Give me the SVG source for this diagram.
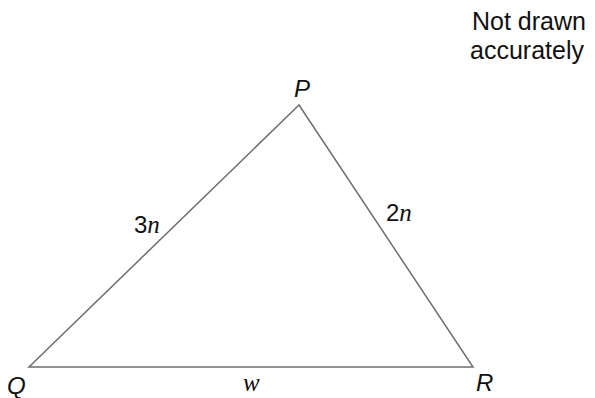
<svg xmlns="http://www.w3.org/2000/svg" width="595" height="398" viewBox="0 0 595 398">
<style>
.edge{stroke:#6e6e6e;stroke-width:1.5;fill:none}
.lbl{font-family:"Liberation Sans",Arial,sans-serif;font-size:24px;fill:#111}
.it{font-family:"Liberation Serif","Times New Roman",serif;font-style:italic;font-size:25px}
.note{font-family:"Liberation Sans",Arial,sans-serif;font-size:25px;fill:#111}
</style>
<rect width="595" height="398" fill="#fff"/>
<g id="connectors">
<polygon class="edge" points="299,105 29,367 473,367"/>
</g>
<g id="P"><text class="lbl" x="294" y="97" font-style="italic">P</text></g>
<g id="Q"><text class="lbl" x="7" y="394" font-style="italic">Q</text></g>
<g id="R"><text class="lbl" x="476" y="391" font-style="italic">R</text></g>
<g id="side-QP"><text class="lbl" x="134" y="233">3<tspan class="it">n</tspan></text></g>
<g id="side-PR"><text class="lbl" x="386" y="221">2<tspan class="it">n</tspan></text></g>
<g id="side-QR"><text class="lbl it" x="243" y="391">w</text></g>
<g id="note">
<text class="note" x="472" y="30">Not drawn</text>
<text class="note" x="470" y="59">accurately</text>
</g>
</svg>
